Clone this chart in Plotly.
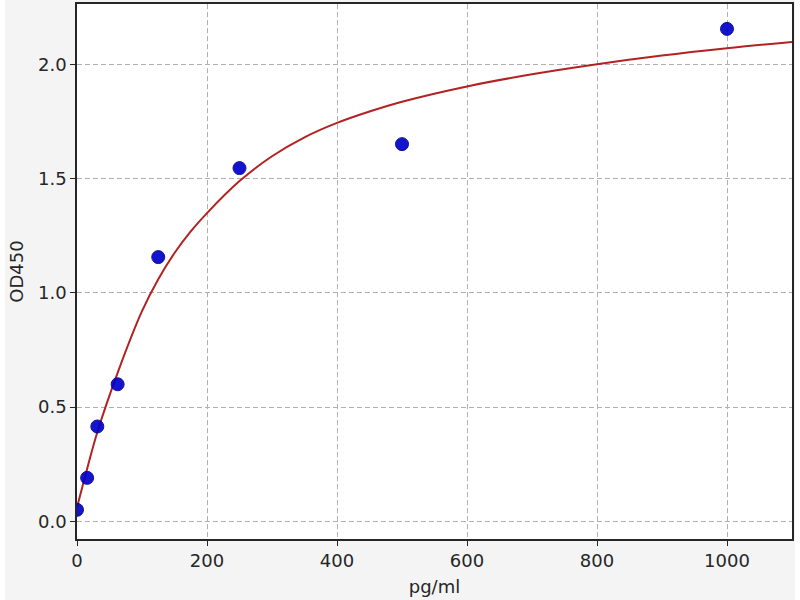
import plotly.graph_objects as go

# standards (pg/ml) and measured OD450
conc = [0, 15.6, 31.25, 62.5, 125, 250, 500, 1000]
od450 = [0.05, 0.19, 0.415, 0.60, 1.157, 1.547, 1.652, 2.157]

# fitted curve
curve_x = [0, 15.6, 31.25, 62.5, 100, 125, 150, 175, 200, 250, 300, 350, 400, 450, 500, 600, 700, 800, 900, 1000, 1100]
curve_y = [0.06, 0.23, 0.39, 0.65, 0.92, 1.06, 1.175, 1.27, 1.35, 1.49, 1.599, 1.682, 1.745, 1.795, 1.838, 1.905, 1.958, 2.002, 2.04, 2.072, 2.10]

x_ticks = [0, 200, 400, 600, 800, 1000]
y_ticks = [0.0, 0.5, 1.0, 1.5, 2.0]

txt = dict(family="DejaVu Sans", size=18, color="#262626")
grid = "#b0b0b0"

fig = go.Figure()
fig.add_trace(go.Scatter(x=curve_x, y=curve_y, mode="lines",
                         line=dict(color="#b22222", width=2, shape="spline", smoothing=1),
                         hoverinfo="skip"))
fig.add_trace(go.Scatter(x=conc, y=od450, mode="markers",
                         marker=dict(color="#0000cd", size=13, opacity=0.92,
                                     line=dict(color="#00008b", width=1))))

fig.update_xaxes(range=[0, 1100], tickvals=x_ticks, ticks="outside", ticklen=5,
                 tickcolor="#262626", showline=True, linecolor="#262626", linewidth=1.5,
                 mirror=True, showgrid=True, gridcolor=grid, griddash="5px,3px",
                 gridwidth=1, zeroline=False, tickfont=txt,
                 title=dict(text="pg/ml", font=txt, standoff=10))
fig.update_yaxes(range=[-0.078, 2.266], tickvals=y_ticks, tickformat=".1f",
                 ticks="outside", ticklen=5, tickcolor="#262626", showline=True,
                 linecolor="#262626", linewidth=1.5, mirror=True, showgrid=True,
                 gridcolor=grid, griddash="5px,3px", gridwidth=1, zeroline=False,
                 tickfont=txt, title=dict(text="OD450", font=txt, standoff=10))

# thin white strips at the left and right edges of the image
fig.add_shape(type="rect", xref="paper", yref="paper", x0=-0.1077, x1=-0.1007,
              y0=-0.2, y1=1.1, fillcolor="white", line_width=0, layer="below")
fig.add_shape(type="rect", xref="paper", yref="paper", x0=1.0042, x1=1.0112,
              y0=-0.2, y1=1.1, fillcolor="white", line_width=0, layer="below")

fig.update_layout(width=800, height=600, showlegend=False,
                  paper_bgcolor="#f4f4f4", plot_bgcolor="white",
                  margin=dict(l=77, r=8, t=2, b=61), font=txt)

# drop the page's default body margin so the figure sits at the window corner
fig.write_html("out.html", config={"displayModeBar": False},
               post_script="document.body.style.margin='0';")
